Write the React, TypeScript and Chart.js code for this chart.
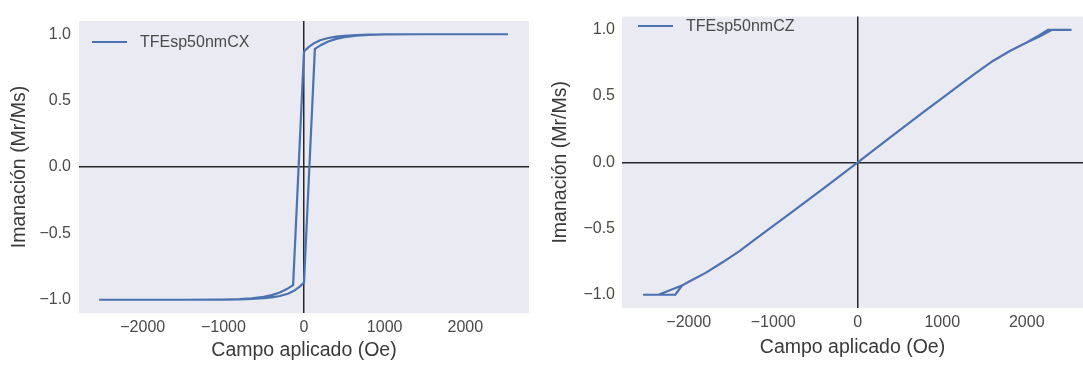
import React, { useEffect, useRef } from 'react';
import { Chart, registerables } from 'chart.js';

Chart.register(...registerables);

// ---------- data ----------
const CX_LABEL = 'TFEsp50nmCX';
const CZ_LABEL = 'TFEsp50nmCZ';

// CX: descending branch (+H -> -H)
const CX_FIELD_DOWN = [2530, 2000, 1500, 1000, 800, 650, 500, 400, 300, 200, 130, 60, 0, -135, -200, -300, -400, -500, -650, -800, -1000, -1500, -2000, -2530];
const CX_MAG_DOWN = [1.0, 1.0, 1.0, 0.999, 0.997, 0.994, 0.988, 0.982, 0.972, 0.955, 0.935, 0.905, 0.87, -0.89, -0.915, -0.945, -0.965, -0.978, -0.99, -0.996, -0.999, -1.0, -1.0, -1.0];
// CX: ascending branch (-H -> +H)
const CX_FIELD_UP = [-2530, -2000, -1500, -1000, -800, -650, -500, -400, -300, -200, -130, -60, 0, 135, 200, 300, 400, 500, 650, 800, 1000, 1500, 2000, 2530];
const CX_MAG_UP = [-1.0, -1.0, -1.0, -0.999, -0.997, -0.994, -0.988, -0.982, -0.972, -0.955, -0.935, -0.905, -0.87, 0.89, 0.915, 0.945, 0.965, 0.978, 0.99, 0.996, 0.999, 1.0, 1.0, 1.0];

// CZ: descending branch
const CZ_FIELD_DOWN = [2530, 2250, 2150, 2000, 1800, 1600, 1400, 1200, 1000, 800, 400, 0, -400, -800, -1000, -1200, -1400, -1600, -1800, -1950, -2080, -2360, -2530];
const CZ_MAG_DOWN = [1.0, 1.0, 0.96, 0.905, 0.84, 0.765, 0.675, 0.58, 0.485, 0.39, 0.195, 0.0, -0.195, -0.385, -0.48, -0.575, -0.67, -0.755, -0.835, -0.885, -0.93, -1.0, -1.0];
// CZ: ascending branch
const CZ_FIELD_UP = [-2530, -2160, -2080, -1950, -1800, -1600, -1400, -1200, -1000, -800, -400, 0, 400, 800, 1000, 1200, 1400, 1600, 1800, 2000, 2150, 2300, 2530];
const CZ_MAG_UP = [-1.0, -1.0, -0.93, -0.885, -0.835, -0.755, -0.67, -0.575, -0.48, -0.385, -0.195, 0.0, 0.195, 0.39, 0.485, 0.58, 0.675, 0.765, 0.84, 0.905, 0.95, 1.0, 1.0];

const X_TICKS = [-2000, -1000, 0, 1000, 2000];
const Y_TICKS = [-1.0, -0.5, 0.0, 0.5, 1.0];
const X_TITLE = 'Campo aplicado (Oe)';
const Y_TITLE = 'Imanación (Mr/Ms)';

// ---------- style ----------
const BLUE = '#4C72B0';
const BG = '#EAEAF2';
const AXIS_LINE = '#262626';
const TICK_COLOR = '#4a4a4a';
const TITLE_COLOR = '#3a3a3a';
const FONT = "'Liberation Sans', Arial, sans-serif";

const minus = (s: string) => s.replace('-', '\u2212');

const bgPlugin = {
  id: 'plotBg',
  beforeDraw(chart: any) {
    const { ctx, chartArea } = chart;
    if (!chartArea) return;
    ctx.save();
    ctx.fillStyle = BG;
    ctx.fillRect(chartArea.left, chartArea.top, chartArea.right - chartArea.left, chartArea.bottom - chartArea.top);
    ctx.restore();
  },
};

const innerLegendPlugin = {
  id: 'innerLegend',
  afterDraw(chart: any, _args: any, opts: any) {
    const ds = chart.data.datasets[0];
    const { ctx } = chart;
    ctx.save();
    ctx.strokeStyle = ds.borderColor;
    ctx.lineWidth = 2.2;
    ctx.beginPath();
    ctx.moveTo(opts.x, opts.y);
    ctx.lineTo(opts.x + 35, opts.y);
    ctx.stroke();
    ctx.fillStyle = TICK_COLOR;
    ctx.font = `16px ${FONT}`;
    ctx.textBaseline = 'middle';
    ctx.textAlign = 'left';
    ctx.fillText(ds.label, opts.x + 48, opts.y + 1);
    ctx.restore();
  },
};

type PanelProps = {
  label: string;
  fieldDown: number[];
  magDown: number[];
  fieldUp: number[];
  magUp: number[];
  xMin: number;
  xMax: number;
  width: number;
  height: number;
  left: number;
  pad: { left: number; right: number; top: number; bottom: number };
  yAxisWidth: number;
  xAxisHeight: number;
  yTitlePad: number;
  xTitlePad: number;
  yTickPad: number;
  xTickPad: number;
  legendX: number;
  legendY: number;
};

function Panel(p: PanelProps) {
  const ref = useRef<HTMLCanvasElement | null>(null);
  useEffect(() => {
    if (!ref.current) return;
    const points = [
      ...p.fieldDown.map((x, i) => ({ x, y: p.magDown[i] })),
      ...p.fieldUp.map((x, i) => ({ x, y: p.magUp[i] })),
    ];
    const gridColor = (c: any) => (c.tick && c.tick.value === 0 ? AXIS_LINE : 'rgba(0,0,0,0)');
    const chart = new Chart(ref.current, {
      type: 'scatter',
      data: {
        datasets: [
          {
            label: p.label,
            data: points,
            showLine: true,
            borderColor: BLUE,
            backgroundColor: BLUE,
            borderWidth: 2.2,
            pointRadius: 0,
            pointHoverRadius: 0,
            tension: 0,
            borderJoinStyle: 'round',
          } as any,
        ],
      },
      options: {
        responsive: false,
        animation: false,
        events: [],
        layout: { padding: p.pad },
        plugins: {
          legend: { display: false },
          tooltip: { enabled: false },
          innerLegend: { x: p.legendX, y: p.legendY },
        } as any,
        scales: {
          x: {
            type: 'linear',
            min: p.xMin,
            max: p.xMax,
            z: 1,
            afterBuildTicks: (s: any) => {
              s.ticks = X_TICKS.map((v) => ({ value: v }));
            },
            afterFit: (s: any) => {
              s.height = p.xAxisHeight;
            },
            ticks: {
              padding: p.xTickPad,
              color: TICK_COLOR,
              font: { family: FONT, size: 16 },
              maxRotation: 0,
              autoSkip: false,
              callback: (v: any) => minus(String(v)),
            },
            grid: { color: gridColor, lineWidth: 1.5, drawTicks: false },
            border: { display: false },
            title: {
              display: true,
              text: X_TITLE,
              color: TITLE_COLOR,
              font: { family: FONT, size: 19.5 },
              padding: { top: 0, bottom: p.xTitlePad },
            },
          },
          y: {
            type: 'linear',
            min: -1.1,
            max: 1.1,
            z: 1,
            afterBuildTicks: (s: any) => {
              s.ticks = Y_TICKS.map((v) => ({ value: v }));
            },
            afterFit: (s: any) => {
              s.width = p.yAxisWidth;
            },
            ticks: {
              padding: p.yTickPad,
              color: TICK_COLOR,
              font: { family: FONT, size: 16 },
              autoSkip: false,
              callback: (v: any) => minus(Number(v).toFixed(1)),
            },
            grid: { color: gridColor, lineWidth: 1.5, drawTicks: false },
            border: { display: false },
            title: {
              display: true,
              text: Y_TITLE,
              color: TITLE_COLOR,
              font: { family: FONT, size: 19.5 },
              padding: { top: p.yTitlePad, bottom: 0 },
            },
          },
        },
      },
      plugins: [bgPlugin, innerLegendPlugin],
    } as any);
    return () => chart.destroy();
  }, []);
  return (
    <canvas
      ref={ref}
      width={p.width}
      height={p.height}
      style={{ position: 'absolute', left: p.left, top: 0, width: p.width, height: p.height }}
    />
  );
}

export default function App() {
  return (
    <div style={{ position: 'absolute', left: 0, top: 0, width: 1083, height: 365, background: '#fff', overflow: 'hidden' }}>
      <Panel
        label={CX_LABEL}
        fieldDown={CX_FIELD_DOWN}
        magDown={CX_MAG_DOWN}
        fieldUp={CX_FIELD_UP}
        magUp={CX_MAG_UP}
        xMin={-2790}
        xMax={2790}
        width={540}
        height={365}
        left={0}
        pad={{ left: 0, right: 11, top: 21, bottom: 0 }}
        yAxisWidth={79}
        xAxisHeight={52}
        yTitlePad={8}
        xTitlePad={3}
        yTickPad={8}
        xTickPad={5}
        legendX={92}
        legendY={42}
      />
      <Panel
        label={CZ_LABEL}
        fieldDown={CZ_FIELD_DOWN}
        magDown={CZ_MAG_DOWN}
        fieldUp={CZ_FIELD_UP}
        magUp={CZ_MAG_UP}
        xMin={-2790}
        xMax={2666}
        width={543}
        height={365}
        left={540}
        pad={{ left: 0, right: 0, top: 5, bottom: 0 }}
        yAxisWidth={82}
        xAxisHeight={57}
        yTitlePad={9}
        xTitlePad={6}
        yTickPad={7}
        xTickPad={5}
        legendX={98}
        legendY={26}
      />
    </div>
  );
}
